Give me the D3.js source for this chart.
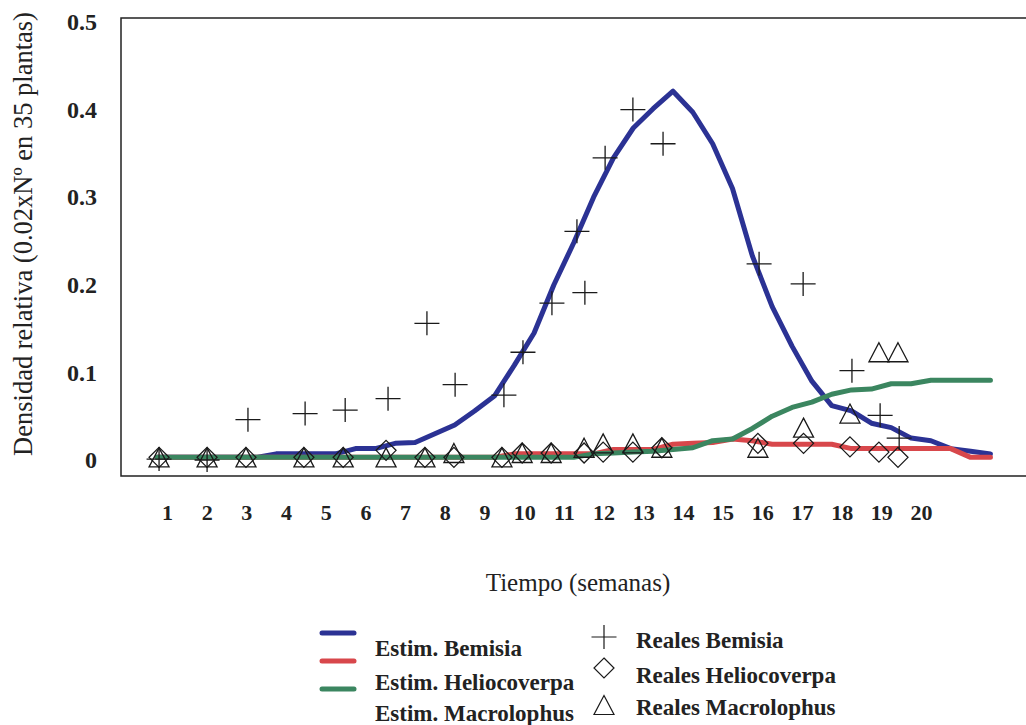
<!DOCTYPE html>
<html>
<head>
<meta charset="utf-8">
<script src="https://cdn.jsdelivr.net/npm/d3@7"></script>
<style>
  html, body { margin: 0; padding: 0; background: #fff; }
  svg { display: block; }
  text { font-family: "Liberation Serif", "Times New Roman", serif; }
</style>
</head>
<body>
<div id="chart"></div>
<script>
// weeks at which the estimated curves are sampled
const estWeeks = [0.75, 1.25, 1.75, 2.25, 2.75, 3.25, 3.75, 4.25, 4.75, 5.25, 5.75, 6.25, 6.75, 7.25,
  7.75, 8.25, 8.75, 9.25, 9.75, 10.25, 10.75, 11.25, 11.75, 12.25, 12.75, 13.25, 13.75, 14.25,
  14.75, 15.25, 15.75, 16.25, 16.75, 17.25, 17.75, 18.25, 18.75, 19.25, 19.75, 20.25, 20.75, 21.25, 21.75];

const estBemisia = [0.003, 0.003, 0.003, 0.003, 0.003, 0.003, 0.007, 0.007, 0.007, 0.007, 0.013, 0.013,
  0.019, 0.02, 0.03, 0.04, 0.056, 0.073, 0.108, 0.145, 0.2, 0.248, 0.3, 0.345, 0.379, 0.401, 0.421,
  0.397, 0.361, 0.31, 0.233, 0.175, 0.13, 0.09, 0.062, 0.056, 0.042, 0.037, 0.025, 0.022, 0.013, 0.01, 0.007];

const estHeliocoverpa = [0.003, 0.003, 0.003, 0.003, 0.003, 0.003, 0.003, 0.003, 0.003, 0.003, 0.003,
  0.003, 0.003, 0.003, 0.003, 0.003, 0.003, 0.003, 0.007, 0.007, 0.007, 0.007, 0.007, 0.012, 0.012,
  0.012, 0.018, 0.019, 0.02, 0.024, 0.022, 0.018, 0.018, 0.018, 0.018, 0.013, 0.013, 0.013, 0.013,
  0.013, 0.013, 0.003, 0.003];

const estMacrolophus = [0.003, 0.003, 0.003, 0.003, 0.003, 0.003, 0.003, 0.003, 0.003, 0.003, 0.003,
  0.003, 0.003, 0.003, 0.003, 0.003, 0.003, 0.003, 0.003, 0.003, 0.003, 0.003, 0.007, 0.008, 0.009,
  0.01, 0.012, 0.014, 0.022, 0.024, 0.036, 0.05, 0.06, 0.066, 0.075, 0.08, 0.081, 0.087, 0.087,
  0.091, 0.091, 0.091, 0.091];

// observed samples
const bemisiaWeeks = [0.8, 2.01, 3.04, 4.48, 5.49, 6.57, 7.55, 8.26, 9.49, 9.97, 10.7, 11.33, 11.53,
  12.04, 12.74, 13.5, 15.92, 17.03, 18.26, 18.97, 19.45];
const realBemisia = [0.001, 0, 0.046, 0.053, 0.057, 0.07, 0.156, 0.086, 0.074, 0.123, 0.179, 0.261,
  0.191, 0.345, 0.4, 0.361, 0.224, 0.201, 0.102, 0.051, 0.025];

const sampleWeeks = [0.8, 2.01, 2.99, 4.45, 5.44, 6.52, 7.5, 8.23, 9.44, 9.95, 10.68, 11.51, 11.99,
  12.74, 13.47, 15.89, 17.04, 18.21, 18.94, 19.42];
const realHeliocoverpa = [0.003, 0.003, 0.003, 0.003, 0.003, 0.011, 0.003, 0.003, 0.003, 0.008, 0.008,
  0.008, 0.009, 0.009, 0.014, 0.019, 0.019, 0.015, 0.009, 0.003];
const realMacrolophus = [0.003, 0.003, 0.003, 0.003, 0.003, 0.003, 0.003, 0.008, 0.003, 0.008, 0.008,
  0.014, 0.019, 0.019, 0.014, 0.014, 0.037, 0.053, 0.123, 0.123];

const weekTicks = [1, 2, 3, 4, 5, 6, 7, 8, 9, 10, 11, 12, 13, 14, 15, 16, 17, 18, 19, 20];
const densityTicks = [0, 0.1, 0.2, 0.3, 0.4, 0.5];

const colors = { bemisia: '#2b3294', helio: '#d8474b', macro: '#3b8660' };
const serif = '"Liberation Serif", "Times New Roman", serif';

const width = 1026, height = 725;
const margin = { top: 18, left: 121 };
const innerHeight = 458;

const svg = d3.select('#chart').append('svg')
  .attr('width', width)
  .attr('height', height);

const g = svg.append('g').attr('transform', `translate(${margin.left},${margin.top})`);

const x = d3.scaleLinear().domain([1, 20]).range([46, 800]);
const y = d3.scaleLinear().domain([0, 0.5]).range([442, 4]);

// frame (right side runs off the picture)
g.append('path')
  .attr('d', `M${width},0H0V${innerHeight}H${width}`)
  .attr('fill', 'none')
  .attr('stroke', '#222')
  .attr('stroke-width', 1.5);

// Y axis
const yAxis = g.append('g')
  .call(d3.axisLeft(y).tickValues(densityTicks).tickSize(0).tickPadding(24)
    .tickFormat(d => d === 0 ? '0' : d3.format('.1f')(d)))
  .attr('font-family', serif)
  .attr('font-size', 24)
  .attr('font-weight', 'bold');
yAxis.select('.domain').remove();
yAxis.selectAll('text').attr('fill', '#222');

// X axis (labels only)
const xAxis = g.append('g')
  .attr('transform', `translate(0,${innerHeight})`)
  .call(d3.axisBottom(x).tickValues(weekTicks).tickSize(0).tickPadding(28).tickFormat(d3.format('d')))
  .attr('font-family', serif)
  .attr('font-size', 22)
  .attr('font-weight', 'bold');
xAxis.select('.domain').remove();
xAxis.selectAll('text').attr('fill', '#222');

// axis titles
svg.append('text')
  .attr('transform', 'translate(32,234) rotate(-90)')
  .attr('text-anchor', 'middle')
  .attr('font-family', serif)
  .attr('font-size', 26.5)
  .attr('fill', '#222')
  .text('Densidad relativa (0.02xNº en 35 plantas)');

svg.append('text')
  .attr('x', 578)
  .attr('y', 591)
  .attr('text-anchor', 'middle')
  .attr('font-family', serif)
  .attr('font-size', 25)
  .attr('fill', '#222')
  .text('Tiempo (semanas)');

// estimated curves
const line = d3.line()
  .x((d, i) => x(estWeeks[i]))
  .y(d => y(d));

[[estBemisia, colors.bemisia], [estHeliocoverpa, colors.helio], [estMacrolophus, colors.macro]]
  .forEach(([vals, c]) => {
    g.append('path')
      .datum(vals)
      .attr('fill', 'none')
      .attr('stroke', c)
      .attr('stroke-width', 5)
      .attr('stroke-linejoin', 'round')
      .attr('stroke-linecap', 'round')
      .attr('d', line);
  });

// marker shapes
const crossPath = () => 'M-12.5,0H12.5M0,-12V12';
const diamondPath = () => 'M0,-10L10,0L0,10L-10,0Z';
const trianglePath = () => 'M0,-9.5L10,9.5H-10Z';

function drawMarkers(weeks, vals, shape, cls) {
  g.selectAll('.' + cls)
    .data(vals)
    .enter()
    .append('path')
    .attr('class', cls)
    .attr('transform', (d, i) => `translate(${x(weeks[i])},${y(d)})`)
    .attr('d', shape)
    .attr('fill', 'none')
    .attr('stroke', '#1a1a1a')
    .attr('stroke-width', 1.3);
}

drawMarkers(sampleWeeks, realMacrolophus, trianglePath, 'tri');
drawMarkers(sampleWeeks, realHeliocoverpa, diamondPath, 'dia');
drawMarkers(bemisiaWeeks, realBemisia, crossPath, 'cross');

// legend
const legend = svg.append('g')
  .attr('font-family', serif)
  .attr('font-size', 23)
  .attr('font-weight', 'bold')
  .attr('fill', '#222');

const lineItems = [
  { label: 'Estim. Bemisia', color: colors.bemisia, ly: 633, ty: 656 },
  { label: 'Estim. Heliocoverpa', color: colors.helio, ly: 661, ty: 690 },
  { label: 'Estim. Macrolophus', color: colors.macro, ly: 689, ty: 721 }
];
lineItems.forEach(it => {
  legend.append('line')
    .attr('x1', 322).attr('x2', 354)
    .attr('y1', it.ly).attr('y2', it.ly)
    .attr('stroke', it.color)
    .attr('stroke-width', 5)
    .attr('stroke-linecap', 'round');
  legend.append('text').attr('x', 375).attr('y', it.ty).text(it.label);
});

const markItems = [
  { label: 'Reales Bemisia', shape: crossPath, my: 637, ty: 648 },
  { label: 'Reales Heliocoverpa', shape: diamondPath, my: 668, ty: 683 },
  { label: 'Reales Macrolophus', shape: trianglePath, my: 705, ty: 715 }
];
markItems.forEach(it => {
  legend.append('path')
    .attr('transform', `translate(604,${it.my})`)
    .attr('d', it.shape)
    .attr('fill', 'none')
    .attr('stroke', '#1a1a1a')
    .attr('stroke-width', 1.2);
  legend.append('text').attr('x', 636).attr('y', it.ty).text(it.label);
});
</script>
</body>
</html>
